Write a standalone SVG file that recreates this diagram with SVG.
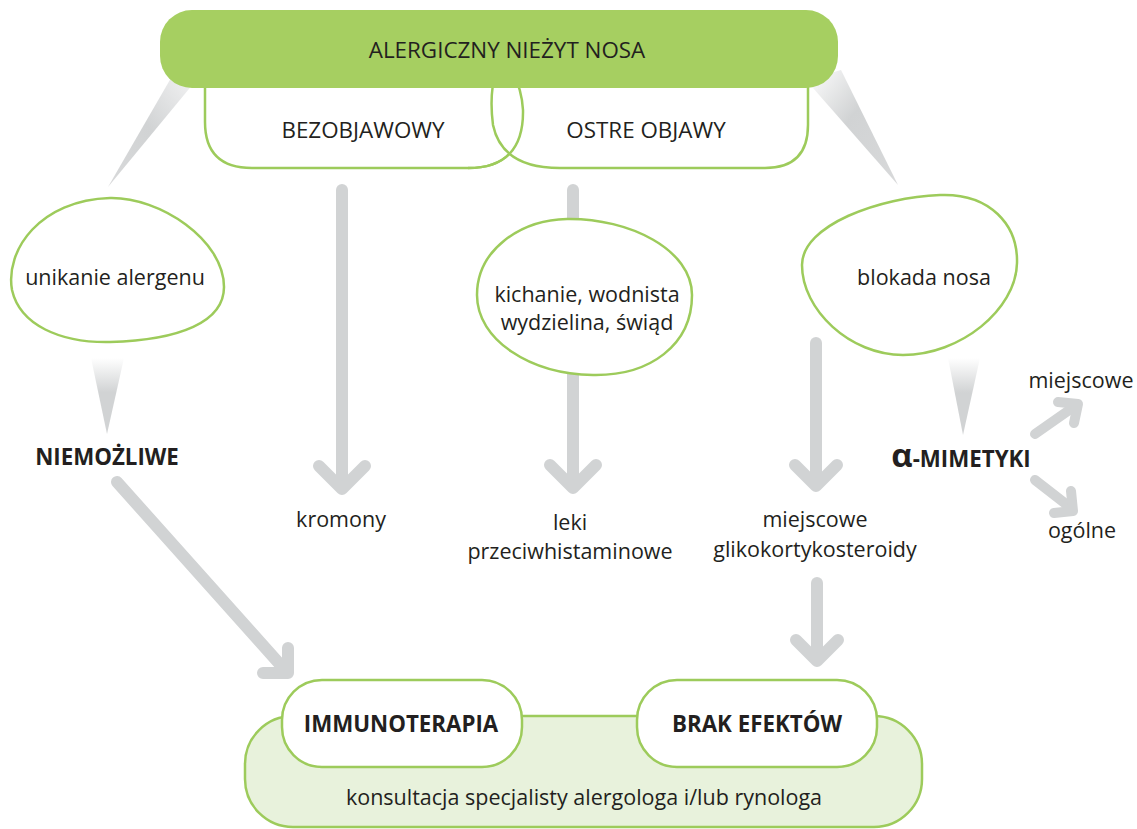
<svg xmlns="http://www.w3.org/2000/svg" width="1137" height="829" viewBox="0 0 1137 829">
<style>
.t{font-family:"Open Sans","Liberation Sans",sans-serif;fill:#231f20;text-anchor:middle}
.r{font-size:21.5px}
.c{font-size:22.4px}
.b{font-size:22.3px;font-weight:bold}
.node{fill:#fff;stroke:#9dcb5b;stroke-width:2.5}
.arr{fill:none;stroke:#d1d3d4;stroke-width:12;stroke-linecap:round;stroke-linejoin:round}
.arr2{fill:none;stroke:#d1d3d4;stroke-width:10;stroke-linecap:round;stroke-linejoin:round}
</style>
<defs>
<linearGradient id="gv" x1="0" y1="0" x2="0" y2="1"><stop offset="0" stop-color="#ffffff"/><stop offset="0.45" stop-color="#d1d3d4"/><stop offset="1" stop-color="#d1d3d4"/></linearGradient>
<linearGradient id="gl" x1="1" y1="0" x2="0" y2="1"><stop offset="0" stop-color="#f4f4f5"/><stop offset="0.5" stop-color="#d1d3d4"/><stop offset="1" stop-color="#d8d9da"/></linearGradient>
<linearGradient id="gr" x1="0" y1="0" x2="1" y2="1"><stop offset="0" stop-color="#ffffff"/><stop offset="0.45" stop-color="#d1d3d4"/><stop offset="1" stop-color="#d8d9da"/></linearGradient>
</defs>

<g id="connectors">
<polygon points="171,78 198,78 108,187" fill="url(#gl)"/>
<polygon points="806,80 841,70 898,185" fill="url(#gr)"/>
<polygon points="91,358 124,358 107,434" fill="url(#gv)"/>
<polygon points="948,358 980,358 963,435" fill="url(#gv)"/>
<line class="arr" x1="342" y1="190" x2="342" y2="486"/>
<polyline class="arr" points="319,466 342,489 365,466"/>
<line class="arr" x1="573" y1="190" x2="573" y2="486"/>
<polyline class="arr" points="550,465 573,488 596,465"/>
<line class="arr" x1="816" y1="343" x2="816" y2="484"/>
<polyline class="arr" points="795,465 816,486 837,465"/>
<line class="arr" x1="817" y1="583" x2="817" y2="659"/>
<polyline class="arr" points="796,640 817,661 838,640"/>
<line class="arr" x1="117" y1="482" x2="285" y2="670"/>
<polyline class="arr" points="288,648 288,673 263,673"/>
<line class="arr2" x1="1035" y1="434" x2="1075" y2="406"/>
<polyline class="arr2" points="1058,402 1078,404 1074,423"/>
<line class="arr2" x1="1035" y1="480" x2="1071" y2="508"/>
<polyline class="arr2" points="1071,491 1073,511 1054,513"/>
</g>

<g id="bezobjawowy">
<path class="node" d="M 205 70 L 205 122 Q 205 168 252 168 L 468 168 Q 524 168 523 110 Q 522 90 512 70 Z"/>
</g>
<g id="ostre">
<path class="node" d="M 496 70 Q 489 95 493 125 Q 502 168 560 168 L 765 168 Q 808 168 808 125 L 808 70 Z"/>
<path d="M 523 110 Q 522 90 512 70 M 468 168 Q 524 168 523 110" fill="none" stroke="#9dcb5b" stroke-width="2.5"/>
<text class="t c" x="646" y="138">OSTRE OBJAWY</text>
</g>
<text class="t c" x="363" y="138">BEZOBJAWOWY</text>

<g id="alergiczny">
<rect x="160" y="10" width="678" height="78" rx="32" fill="#a6cf61"/>
<text class="t c" x="507" y="58">ALERGICZNY NIEŻYT NOSA</text>
</g>

<g id="unikanie">
<path class="node" d="M 110 198 C 160 197 224 240 224 287 C 224 322 180 340 110 342 C 60 343 20 325 12 290 C 5 250 40 200 110 198 Z"/>
<text class="t r" x="115" y="285">unikanie alergenu</text>
</g>

<g id="kichanie">
<path class="node" d="M 567 219 C 630 218 692 250 692 295 C 692 345 650 376 593 375 C 530 374 477 340 477 295 C 477 250 520 220 567 219 Z"/>
<text class="t r" x="587" y="302">kichanie, wodnista</text>
<text class="t r" x="587" y="330">wydzielina, świąd</text>
</g>

<g id="blokada">
<path class="node" d="M 940 195 C 990 193 1018 225 1017 263 C 1016 310 960 355 903 355 C 850 355 802 310 802 265 C 802 225 880 197 940 195 Z"/>
<text class="t r" x="924" y="285">blokada nosa</text>
</g>

<g id="niemozliwe"><text class="t b" x="107" y="465">NIEMOŻLIWE</text></g>
<g id="kromony"><text class="t r" x="341" y="527">kromony</text></g>
<g id="leki"><text class="t r" x="570" y="530">leki</text><text class="t r" x="570" y="559">przeciwhistaminowe</text></g>
<g id="glik"><text class="t r" x="815" y="527">miejscowe</text><text class="t r" x="815" y="557">glikokortykosteroidy</text></g>
<g id="mimetyki"><text class="t b" x="961" y="467"><tspan font-size="33">α</tspan>-MIMETYKI</text></g>
<g id="miejscowe2"><text class="t r" x="1081" y="388">miejscowe</text></g>
<g id="ogolne"><text class="t r" x="1082" y="538">ogólne</text></g>

<g id="konsultacja">
<rect x="245" y="716" width="677" height="111" rx="48" fill="#e8f2dc" stroke="#9dcb5b" stroke-width="2.5"/>
<text class="t r" x="584" y="805">konsultacja specjalisty alergologa i/lub rynologa</text>
</g>
<g id="immunoterapia">
<rect class="node" x="282" y="680" width="240" height="87" rx="40"/>
<text class="t b" x="401" y="732">IMMUNOTERAPIA</text>
</g>
<g id="brak">
<rect class="node" x="637" y="680" width="240" height="87" rx="40"/>
<text class="t b" x="757" y="732">BRAK EFEKTÓW</text>
</g>
</svg>
